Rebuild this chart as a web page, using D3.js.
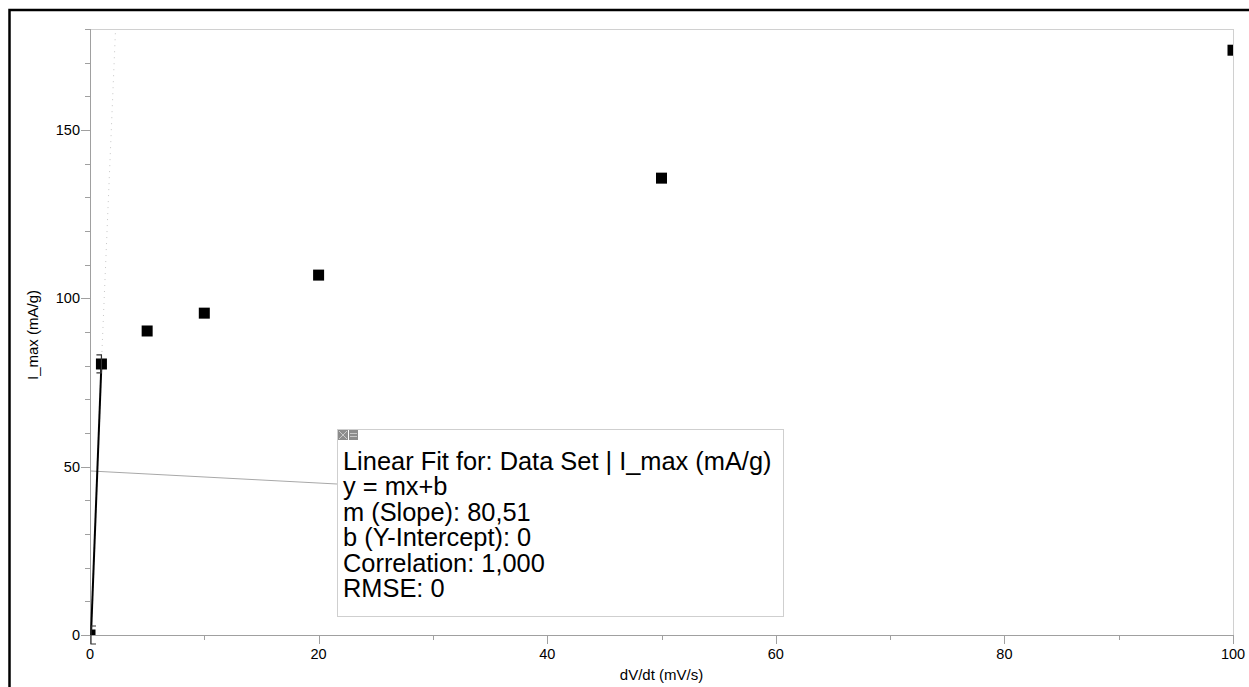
<!DOCTYPE html>
<html>
<head>
<meta charset="utf-8">
<script src="https://cdn.jsdelivr.net/npm/d3@7"></script>
<style>
  html, body { margin: 0; padding: 0; background: #fff; }
  svg { display: block; font-family: "Liberation Sans", Arial, sans-serif; }
</style>
</head>
<body>
<svg id="chart" width="1249" height="687"></svg>
<script>
// ---- data ----
const xValues = [0, 1, 5, 10, 20, 50, 100];
const yValues = [0, 80.5, 90.3, 95.6, 106.9, 135.7, 173.7];
const xTickLabels = [0, 20, 40, 60, 80, 100];
const yTickLabels = [0, 50, 100, 150];
const fitSlope = 80.51;
const fitIntercept = 0;
const fitRange = [0, 1];
const fitLines = [
  "Linear Fit for: Data Set | I_max (mA/g)",
  "y = mx+b",
  "m (Slope): 80,51",
  "b (Y-Intercept): 0",
  "Correlation: 1,000",
  "RMSE: 0"
];

const svg = d3.select("#chart");
const W = 1249, H = 687;
const L = 90, R = 1233, T = 29, B = 635;

// outer frame
svg.append("rect").attr("x", 9.5).attr("y", 10).attr("width", W + 20).attr("height", H + 20)
  .attr("fill", "none").attr("stroke", "#000").attr("stroke-width", 2.5);

const x = d3.scaleLinear().domain([0, 100]).range([L, R]);
const y = d3.scaleLinear().domain([0, 180]).range([B, T]);

// plot frame top/right
svg.append("line").attr("x1", L).attr("x2", R).attr("y1", T + 0.5).attr("y2", T + 0.5)
  .attr("stroke", "#d0d0d0");
svg.append("line").attr("x1", R + 0.5).attr("x2", R + 0.5).attr("y1", T).attr("y2", B)
  .attr("stroke", "#d0d0d0");

const axisColor = "#a0a0a0";
const gx = svg.append("g");
d3.range(0, 101, 10).forEach(v => {
  const major = xTickLabels.includes(v);
  gx.append("line").attr("x1", Math.round(x(v)) + 0.5).attr("x2", Math.round(x(v)) + 0.5)
    .attr("y1", B).attr("y2", B + (major ? 9 : 5)).attr("stroke", axisColor);
});
xTickLabels.forEach(v => {
  gx.append("text").attr("x", x(v)).attr("y", B + 24).attr("text-anchor", "middle")
    .attr("font-size", 14.5).attr("fill", "#000").text(v);
});
const gy = svg.append("g");
d3.range(0, 181, 10).forEach(v => {
  const major = yTickLabels.includes(v);
  gy.append("line").attr("x1", L - (major ? 9 : 5)).attr("x2", L)
    .attr("y1", Math.round(y(v)) + 0.5).attr("y2", Math.round(y(v)) + 0.5).attr("stroke", axisColor);
});
yTickLabels.forEach(v => {
  gy.append("text").attr("x", 80).attr("y", y(v) + 5).attr("text-anchor", "end")
    .attr("font-size", 14.5).attr("fill", "#000").text(v);
});
// axis lines
svg.append("line").attr("x1", L + 0.5).attr("x2", L + 0.5).attr("y1", T).attr("y2", B)
  .attr("stroke", axisColor);
svg.append("line").attr("x1", L).attr("x2", R).attr("y1", B + 0.5).attr("y2", B + 0.5)
  .attr("stroke", axisColor);

// axis titles
svg.append("text").attr("x", x(50)).attr("y", 680).attr("text-anchor", "middle")
  .attr("font-size", 15).text("dV/dt (mV/s)");
svg.append("text").attr("transform", `translate(38,${(T + B) / 2 + 3}) rotate(-90)`)
  .attr("text-anchor", "middle").attr("font-size", 15).text("I_max (mA/g)");

// clip
svg.append("clipPath").attr("id", "plotclip").append("rect")
  .attr("x", L + 1).attr("y", T).attr("width", R - L - 1).attr("height", B - T);
const plot = svg.append("g").attr("clip-path", "url(#plotclip)");

// fit extension (dotted)
const fitF = v => fitSlope * v + fitIntercept;
const xTop = (180 - fitIntercept) / fitSlope;
plot.append("line").attr("x1", x(fitRange[1])).attr("y1", y(fitF(fitRange[1])))
  .attr("x2", x(xTop)).attr("y2", y(180))
  .attr("stroke", "#c8c8c8").attr("stroke-width", 1).attr("stroke-dasharray", "1,5");

// leader line
svg.append("line").attr("x1", L + 1).attr("y1", 471).attr("x2", 337).attr("y2", 484)
  .attr("stroke", "#a8a8a8").attr("stroke-width", 1);

// fit line solid
svg.append("line").attr("x1", x(fitRange[0]) + 1).attr("y1", y(fitF(fitRange[0])))
  .attr("x2", x(fitRange[1])).attr("y2", y(fitF(fitRange[1])))
  .attr("stroke", "#000").attr("stroke-width", 2);

// range brackets
function bracket(xv, dir) {
  const px = x(xv) + (dir > 0 ? 1 : 0), py = y(fitF(xv));
  const p = d3.path();
  p.moveTo(px + dir * 5, py - 9); p.lineTo(px, py - 9); p.lineTo(px, py + 9); p.lineTo(px + dir * 5, py + 9);
  svg.append("path").attr("d", p.toString()).attr("fill", "none").attr("stroke", "#333").attr("stroke-width", 1.2);
}
bracket(fitRange[0], 1);
bracket(fitRange[1], -1);

// points
plot.selectAll("rect.pt").data(xValues.map((d, i) => [d, yValues[i]])).enter()
  .append("rect").attr("class", "pt")
  .attr("x", d => x(d[0]) - 5.5).attr("y", d => y(d[1]) - 5.5)
  .attr("width", 11).attr("height", 11).attr("fill", "#000");

// annotation box
const bx = 337, by = 429, bw = 446, bh = 187;
svg.append("rect").attr("x", bx + 0.5).attr("y", by + 0.5).attr("width", bw).attr("height", bh)
  .attr("fill", "#fff").attr("stroke", "#cfcfcf");
// icons
svg.append("rect").attr("x", bx + 1).attr("y", by + 1).attr("width", 10).attr("height", 10).attr("fill", "#8c8c8c");
svg.append("path").attr("d", `M${bx + 2},${by + 2}L${bx + 10},${by + 10}M${bx + 10},${by + 2}L${bx + 2},${by + 10}`)
  .attr("stroke", "#c8c8c8").attr("stroke-width", 1);
svg.append("rect").attr("x", bx + 12).attr("y", by + 1).attr("width", 9).attr("height", 10).attr("fill", "#8c8c8c");
svg.append("path").attr("d", `M${bx + 13},${by + 4.5}H${bx + 20}M${bx + 13},${by + 7.5}H${bx + 20}`)
  .attr("stroke", "#c8c8c8").attr("stroke-width", 1);

svg.append("g").selectAll("text").data(fitLines).enter().append("text")
  .attr("x", bx + 6).attr("y", (d, i) => 470 + i * 25.4)
  .attr("font-size", 25.4).attr("fill", "#000").text(d => d);
</script>
</body>
</html>
